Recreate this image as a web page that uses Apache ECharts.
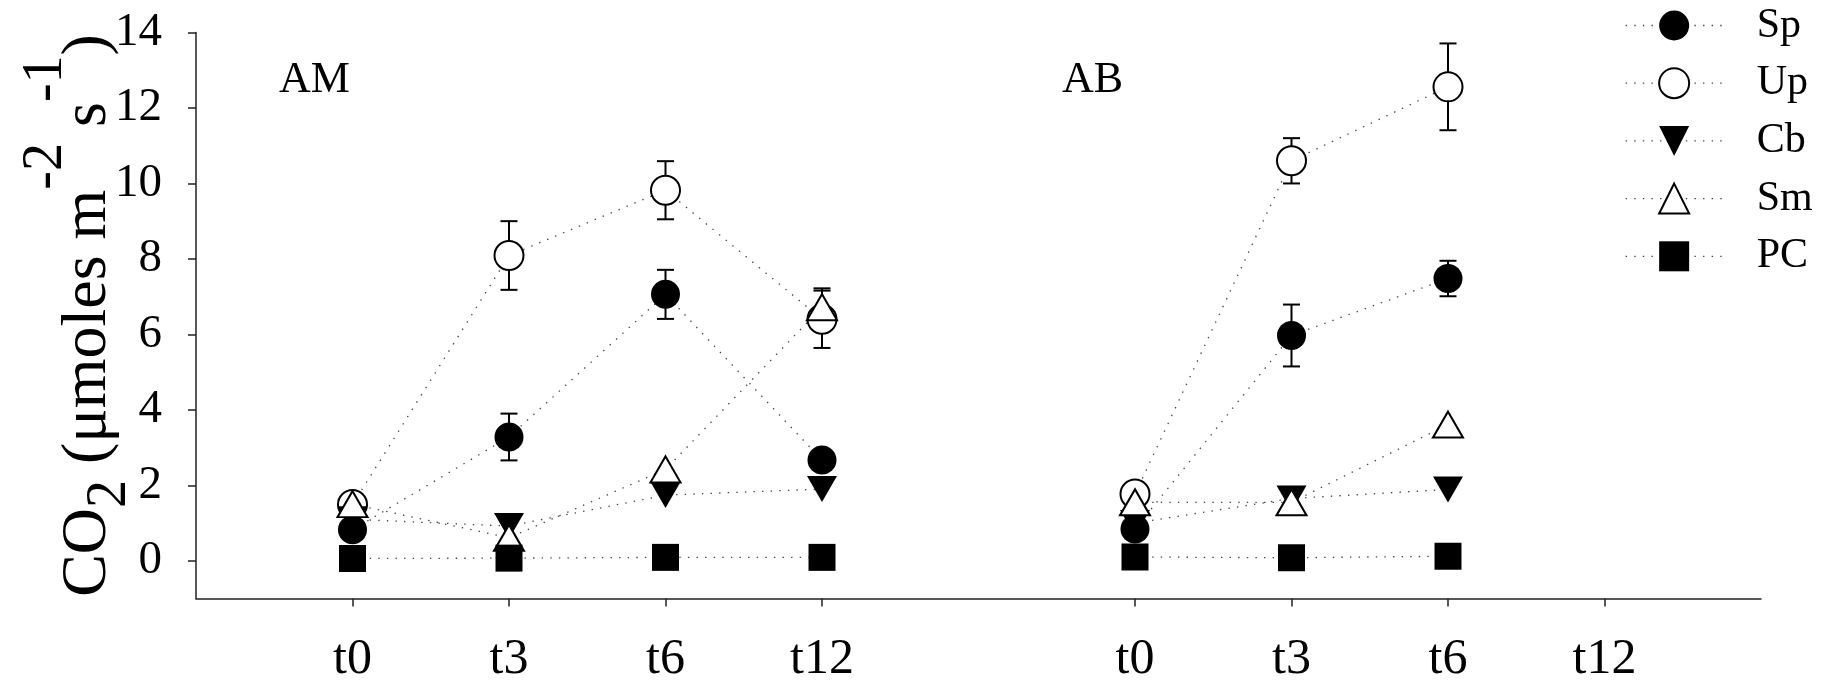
<!DOCTYPE html>
<html><head><meta charset="utf-8">
<script src="https://cdn.jsdelivr.net/npm/echarts@6/dist/echarts.min.js"></script>
<style>html,body{margin:0;padding:0;background:#fff}#c{width:1821px;height:687px}</style>
</head><body><div id="c"></div>
<script>
// ---- data ----
const xLabels = ['', 't0', 't3', 't6', 't12', '', 't0', 't3', 't6', 't12', ''];
const groupLabels = ['AM', 'AB'];
const yTicks = [0, 2, 4, 6, 8, 10, 12, 14];
const seriesNames = ['Sp', 'Up', 'Cb', 'Sm', 'PC'];

const Sp = [null, 0.82, 3.28, 7.06, 2.67, null, 0.84, 5.97, 7.48, null, null];
const Up = [null, 1.49, 8.09, 9.82, 6.40, null, 1.77, 10.60, 12.56, null, null];
const Cb = [null, 1.10, 0.92, 1.74, 1.90, null, 1.00, 1.65, 1.89, null, null];
const Sm = [null, 1.50, 0.61, 2.42, 6.72, null, 1.55, 1.55, 3.61, null, null];
const PC = [null, 0.06, 0.07, 0.09, 0.09, null, 0.10, 0.08, 0.12, null, null];

const SpErr = [null, null, 0.62, 0.65, null, null, null, 0.82, 0.47, null, null];
const UpErr = [null, null, 0.91, 0.77, 0.76, null, null, 0.60, 1.15, null, null];
const CbErr = [null, null, null, null, null, null, null, null, null, null, null];
const SmErr = [null, null, null, null, 0.50, null, null, null, null, null, null];
const PCErr = [null, null, null, null, null, null, null, null, null, null, null];

// ---- styling ----
const FONT = '"Liberation Serif", "Times New Roman", Times, serif';
const values = { Sp, Up, Cb, Sm, PC };
const errs = { Sp: SpErr, Up: UpErr, Cb: CbErr, Sm: SmErr, PC: PCErr };
const marks = {
  Sp: { symbol: 'circle', size: 29, fill: '#000', bw: 0 },
  Up: { symbol: 'circle', size: 29, fill: '#fff', bw: 2 },
  Cb: { symbol: 'path://M0,0L30,0L15,26Z', size: [30, 26], fill: '#000', bw: 0 },
  Sm: { symbol: 'triangle', size: [30, 26], fill: '#fff', bw: 2 },
  PC: { symbol: 'rect', size: 27, fill: '#000', bw: 0 }
};
const dotted = { color: '#444', width: 1.3, type: [1.4, 7.2] };

function errSeries(name) {
  const v = values[name], e = errs[name], data = [];
  v.forEach((val, i) => { if (val != null && e[i] != null) data.push([i, val, e[i]]); });
  return {
    type: 'custom', name: name + ' SE', silent: true, animation: false,
    data, encode: { x: 0, y: 1 },
    renderItem(params, api) {
      const i = api.value(0), val = api.value(1), er = api.value(2);
      const t = api.coord([i, val + er]), b = api.coord([i, val - er]);
      const w = 8.5, st = { stroke: '#000', lineWidth: 2 };
      return { type: 'group', children: [
        { type: 'line', shape: { x1: t[0], y1: t[1], x2: b[0], y2: b[1] }, style: st },
        { type: 'line', shape: { x1: t[0] - w, y1: t[1], x2: t[0] + w, y2: t[1] }, style: st },
        { type: 'line', shape: { x1: b[0] - w, y1: b[1], x2: b[0] + w, y2: b[1] }, style: st }
      ] };
    }
  };
}

const series = [];
seriesNames.forEach(n => {
  if (errs[n].some(x => x != null)) series.push(errSeries(n));
  const m = marks[n];
  series.push({
    type: 'line', name: n, data: values[n], connectNulls: false,
    symbol: m.symbol, symbolSize: m.size, showSymbol: true, showAllSymbol: true,
    itemStyle: { color: m.fill, borderColor: '#000', borderWidth: m.bw },
    lineStyle: dotted, silent: true, animation: false,
    emphasis: { disabled: true }
  });
});

const chart = echarts.init(document.getElementById('c'), null, { renderer: 'canvas' });
chart.setOption({
  backgroundColor: '#fff',
  animation: false,
  grid: { left: 196, right: 60, top: 32.5, bottom: 88.5, containLabel: false, outerBoundsMode: 'none' },
  legend: {
    data: seriesNames, orient: 'vertical', left: 1625, top: 4.5, padding: 0,
    itemWidth: 97, itemHeight: 37.5, itemGap: 15.7, selectedMode: false,
    lineStyle: { width: 1.3 },
    textStyle: { fontFamily: FONT, fontSize: 42, color: '#000', lineHeight: 38, padding: [0, 0, 0, 29] }
  },
  xAxis: {
    type: 'category', data: xLabels.map((l, i) => 'k' + i), boundaryGap: false,
    axisLine: { onZero: false, lineStyle: { color: '#222', width: 1.5 } },
    axisTick: { show: true, length: 8, interval: (i) => xLabels[i] !== '', lineStyle: { color: '#222', width: 1.5 } },
    axisLabel: { interval: 0, margin: 36, fontFamily: FONT, fontSize: 50, color: '#000',
      formatter: (v, i) => xLabels[i] },
    splitLine: { show: false }
  },
  yAxis: {
    type: 'value', min: -1, max: 14,
    axisLine: { show: true, onZero: false, lineStyle: { color: '#222', width: 1.5 } },
    axisTick: { show: true, length: 8, customValues: yTicks, lineStyle: { color: '#222', width: 1.5 } },
    axisLabel: { customValues: yTicks, margin: 34, fontFamily: FONT, fontSize: 47, color: '#000' },
    splitLine: { show: false },
    name: '{b|CO}{sub|2}{b| (μmoles m}{sup|-2}{b| s}{sup|-1}{b|)}',
    nameLocation: 'middle', nameGap: 42, nameMoveOverlap: false,
    nameTextStyle: {
      fontFamily: FONT, color: '#000',
      rich: {
        b: { fontFamily: FONT, fontSize: 64, lineHeight: 132, color: '#000' },
        sub: { fontFamily: FONT, fontSize: 56, lineHeight: 132, padding: [45, 0, 0, 0], color: '#000' },
        sup: { fontFamily: FONT, fontSize: 56, lineHeight: 132, padding: [0, 0, 84, 0], color: '#000' }
      }
    }
  },
  graphic: [
    { type: 'text', x: 279, y: 80, silent: true, style: { text: groupLabels[0], fontFamily: FONT, fontSize: 44, fill: '#000', verticalAlign: 'middle', align: 'left' } },
    { type: 'text', x: 1062, y: 80, silent: true, style: { text: groupLabels[1], fontFamily: FONT, fontSize: 44, fill: '#000', verticalAlign: 'middle', align: 'left' } }
  ],
  series
});
</script>
</body></html>
